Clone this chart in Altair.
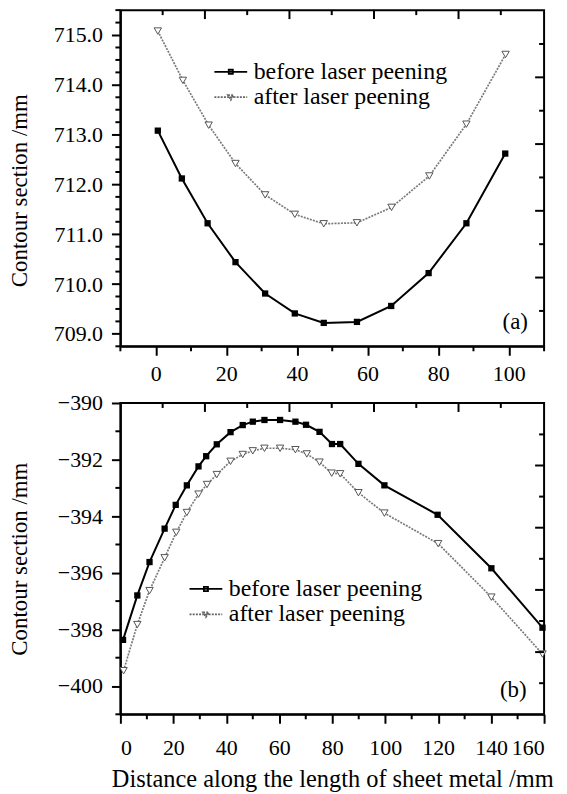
import altair as alt
import pandas as pd

SER = ["before laser peening", "after laser peening"]

# ---- panel (a) data ----
a_x_before = [0.6, 7.4, 14.7, 22.6, 31.0, 39.4, 47.6, 57.0, 66.7, 77.3, 88.0, 99.0]
a_y_before = [713.08, 712.12, 711.22, 710.44, 709.81, 709.41, 709.22, 709.24, 709.56, 710.22, 711.22, 712.62]
a_x_after = [0.6, 7.7, 15.0, 22.6, 31.0, 39.4, 47.6, 57.0, 66.8, 77.5, 88.0, 99.1]
a_y_after = [715.08, 714.09, 713.19, 712.42, 711.79, 711.40, 711.21, 711.23, 711.54, 712.17, 713.21, 714.61]

# ---- panel (b) data ----
b_x_before = [1.0, 6.4, 11.0, 16.7, 20.9, 25.1, 29.5, 32.4, 36.4, 41.6, 46.2, 50.0,
              54.4, 60.3, 66.1, 70.1, 75.2, 79.9, 83.0, 89.9, 99.7, 119.8, 140.1, 159.4]
b_y_before = [-398.37, -396.80, -395.62, -394.44, -393.60, -392.91, -392.24, -391.88,
              -391.46, -391.03, -390.78, -390.66, -390.60, -390.60, -390.66, -390.77,
              -391.02, -391.45, -391.45, -392.15, -392.91, -393.95, -395.84, -397.94]
b_x_after = [1.2, 6.4, 11.0, 16.7, 21.1, 25.1, 29.5, 32.7, 36.4, 41.6, 46.2, 50.0,
             54.4, 60.3, 66.1, 70.4, 75.2, 79.8, 83.0, 89.9, 99.7, 120.0, 140.1, 159.4]
b_y_after = [-399.46, -397.83, -396.63, -395.47, -394.57, -393.87, -393.22, -392.88,
             -392.53, -392.06, -391.82, -391.69, -391.60, -391.60, -391.65, -391.80,
             -392.09, -392.48, -392.50, -393.17, -393.89, -394.97, -396.86, -398.87]

# ---- ticks ----
a_major_x = [0, 20, 40, 60, 80, 100]
a_minor_x = [-10, 10, 30, 50, 70, 90, 110]
a_major_y = [709, 710, 711, 712, 713, 714, 715]
a_minor_y = [708.75, 709.25, 709.5, 709.75, 710.25, 710.5, 710.75, 711.25, 711.5, 711.75,
             712.25, 712.5, 712.75, 713.25, 713.5, 713.75, 714.25, 714.5, 714.75,
             715.25, 715.5]
b_major_x = [0, 20, 40, 60, 80, 100, 120, 140, 160]
b_minor_x = [10, 30, 50, 70, 90, 110, 130, 150]
b_major_y = [-390, -392, -394, -396, -398, -400]
b_minor_y = [-391, -393, -395, -397, -399, -401]
# mirrored (inward) tick indices on the top and right frame
mirror_long = [2, 4, 6, 8]
mirror_short = [1, 3, 5, 7, 9]

FONT = "Liberation Serif"
W = 426
HA, HB = 338, 313

P_BEFORE = "M-1.6,0H1.6M-0.2,-0.2H0.2V0.2H-0.2Z"
P_AFTER = "M-1.6,0H1.6M-0.28,-0.2L0.28,-0.2L0,0.26Z"


def make_df(xb, yb, xa, ya):
    return pd.concat([
        pd.DataFrame({"x": xb, "y": yb, "series": SER[0]}),
        pd.DataFrame({"x": xa, "y": ya, "series": SER[1]}),
    ], ignore_index=True)


def panel(df, xdom, ydom, H, xmaj, xmin, ymaj, ymin, yfmt, top_dom, right_dom,
          leg_x, leg_y, tag, tag_x, tag_y, xtitle, ytitle_y, xlabpad):
    xs = alt.Scale(domain=xdom, nice=False, zero=False)
    ys = alt.Scale(domain=ydom, nice=False, zero=False)
    xaxis = alt.Axis(values=xmaj, tickSize=9, labelPadding=xlabpad, grid=False,
                     title=xtitle, titleFontSize=24.5, titlePadding=10)
    yaxis = alt.Axis(values=ymaj, tickSize=9, labelPadding=9, format=yfmt, grid=False,
                     title="Contour section /mm", titleFontSize=23, titleX=-94,
                     titleY=ytitle_y, titleBaseline="alphabetic", titleAngle=270)
    before = alt.Chart(df).transform_filter(alt.datum.series == SER[0])
    after = alt.Chart(df).transform_filter(alt.datum.series == SER[1])
    X0 = alt.X("x:Q", scale=xs, axis=None)
    Y0 = alt.Y("y:Q", scale=ys, axis=None)
    layers = [
        after.mark_line(color="#7a7a7a", strokeWidth=1.7, strokeDash=[2, 1.2]).encode(
            x=alt.X("x:Q", scale=xs, axis=xaxis), y=alt.Y("y:Q", scale=ys, axis=yaxis)),
        after.mark_point(shape="triangle-down", size=55, filled=True, fill="white",
                         stroke="#555555", strokeWidth=1, opacity=1).encode(x=X0, y=Y0),
        before.mark_line(color="black", strokeWidth=2).encode(x=X0, y=Y0),
        before.mark_point(shape="square", size=40, filled=True, color="black",
                          opacity=1).encode(x=X0, y=Y0),
    ]
    # minor ticks (outward)
    layers.append(alt.Chart(pd.DataFrame({"v": xmin})).mark_tick(
        color="black", size=5, thickness=2, opacity=1).encode(
        x=alt.X("v:Q", scale=xs, axis=None), y=alt.value(H + 2.5)))
    layers.append(alt.Chart(pd.DataFrame({"v": ymin})).mark_tick(
        color="black", size=5, thickness=2, opacity=1).encode(
        y=alt.Y("v:Q", scale=ys, axis=None), x=alt.value(-2.5)))
    # mirrored ticks (inward) on the top and right frame
    ts = alt.Scale(domain=top_dom, nice=False, zero=False)
    rs = alt.Scale(domain=right_dom, nice=False, zero=False)
    for vals, ln in ((mirror_long, 9), (mirror_short, 5)):
        layers.append(alt.Chart(pd.DataFrame({"t": vals})).mark_tick(
            color="black", size=ln, thickness=2, opacity=1).encode(
            x=alt.X("t:Q", scale=ts, axis=None), y=alt.value(ln / 2)))
        layers.append(alt.Chart(pd.DataFrame({"r": vals})).mark_tick(
            color="black", size=ln, thickness=2, opacity=1).encode(
            y=alt.Y("r:Q", scale=rs, axis=None), x=alt.value(W - ln / 2)))
    # legend
    leg = alt.Legend(orient="none", legendX=leg_x, legendY=leg_y, title=None,
                     symbolSize=425, labelFont=FONT, labelFontSize=24, labelColor="black",
                     labelOffset=11, labelLimit=0, rowPadding=1.5, symbolStrokeWidth=1.8,
                     padding=0)
    layers.append(alt.Chart(pd.DataFrame({"series": SER})).mark_point(opacity=0).encode(
        shape=alt.Shape("series:N", scale=alt.Scale(domain=SER, range=[P_BEFORE, P_AFTER]), legend=leg),
        fill=alt.Fill("series:N", scale=alt.Scale(domain=SER, range=["black", "white"]), legend=leg),
        stroke=alt.Stroke("series:N", scale=alt.Scale(domain=SER, range=["black", "#666666"]), legend=leg),
        strokeDash=alt.StrokeDash("series:N", scale=alt.Scale(domain=SER, range=[[1, 0], [2, 1.2]]), legend=leg),
    ))
    # panel tag
    layers.append(alt.Chart(pd.DataFrame({"t": [tag]})).mark_text(
        font=FONT, fontSize=23, align="center", baseline="middle", color="black").encode(
        text="t:N", x=alt.value(tag_x), y=alt.value(tag_y)))
    return alt.layer(*layers).resolve_scale(x="independent", y="independent").properties(
        width=W, height=H)


dfa = make_df(a_x_before, a_y_before, a_x_after, a_y_after)
dfb = make_df(b_x_before, b_y_before, b_x_after, b_y_after)

pa = panel(dfa, [-10, 110], [708.75, 715.5], HA, a_major_x, a_minor_x, a_major_y, a_minor_y,
           ".1f", [0, 10.024], [-0.06, 10.014], 99, 50, "(a)", 397, 314, None, 181, 8)
pb = panel(dfb, [0, 160], [-401, -390], HB, b_major_x, b_minor_x, b_major_y, b_minor_y,
           "d", [0, 10.024], [0, 10.01], 74, 175, "(b)", 395, 289,
           "Distance along the length of sheet metal /mm", HB / 2, 14)

chart = alt.vconcat(pa, pb, spacing=6).resolve_legend(
    shape="independent", fill="independent", stroke="independent", strokeDash="independent"
).properties(
    padding={"left": 0, "top": -2, "right": 4, "bottom": 0}
).configure_view(stroke="black", strokeWidth=2).configure_axis(
    labelFont=FONT, labelFontSize=22, labelColor="black", titleFont=FONT,
    titleColor="black", titleFontWeight="normal", tickColor="black", tickWidth=2,
    domainColor="black", domainWidth=2,
).configure_legend(symbolStrokeColor="black")

chart.save("out.html", embed_options={"renderer": "svg", "actions": False})
